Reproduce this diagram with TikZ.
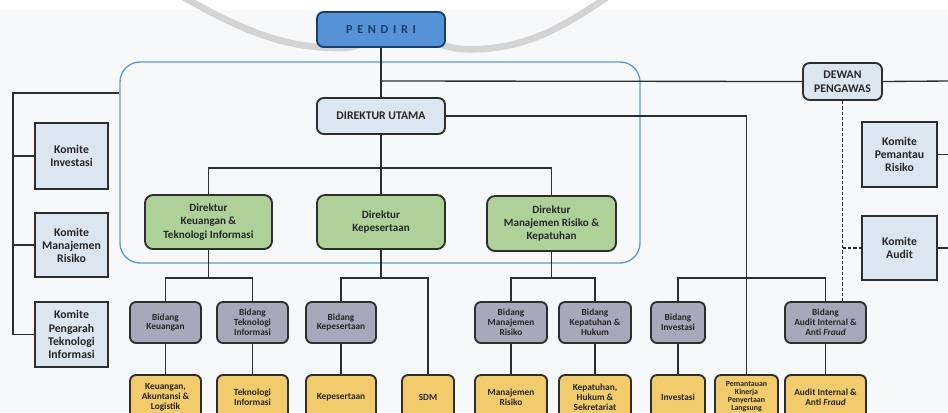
\documentclass[tikz,border=0pt]{standalone}
\usepackage{fontspec}
\setmainfont{Carlito}
\definecolor{lc}{HTML}{2E2E2E}
\definecolor{tc}{HTML}{262626}
\definecolor{lb}{HTML}{DCE6F1}
\definecolor{gr}{HTML}{AED19A}
\definecolor{bd}{HTML}{A9A8BA}
\definecolor{yl}{HTML}{F2CB6C}
\definecolor{pf}{HTML}{5593D6}
\definecolor{pb}{HTML}{1F3D6B}
\definecolor{cb}{HTML}{5B9BD5}
\definecolor{bg}{HTML}{F7F8FA}
\tikzset{
  sz/.style 2 args={minimum width=#1*0.75pt, minimum height=#2*0.75pt},
  base/.style={draw=lc, line width=1.4pt, align=center, inner sep=0pt, text=tc},
  mainbox/.style={base, rounded corners=5pt, fill=lb, font=\bfseries\fontsize{8.8}{10.5}\selectfont},
  komite/.style={base, fill=lb, font=\bfseries\fontsize{8.8}{9.8}\selectfont},
  dirbox/.style={base, rounded corners=6pt, fill=gr, font=\bfseries\fontsize{8.3}{9.8}\selectfont},
  bidang/.style={base, rounded corners=4.5pt, fill=bd, font=\bfseries\fontsize{7}{7.4}\selectfont},
  unitbox/.style={base, rounded corners=4.5pt, fill=yl, font=\bfseries\fontsize{7}{7.5}\selectfont},
  conn/.style={draw=lc, line width=1pt},
  dashconn/.style={draw=lc, line width=1pt, dash pattern=on 2.5pt off 1.5pt},
}
\begin{document}
\begin{tikzpicture}[x=0.75pt,y=-0.75pt]
\useasboundingbox (0,0) rectangle (948,412);
\clip (0,0) rectangle (948,412);
\fill[white] (0,0) rectangle (948,412);
\fill[bg] (0,10) rectangle (948,412);
% watermark swoosh
\draw[black!17, line width=5pt, line cap=round]
  (185,-2) .. controls (250,35) and (290,48) .. (340,48)
  .. controls (368,48) and (380,30) .. (395,29)
  .. controls (415,29) and (430,46) .. (462,49)
  .. controls (525,52) and (565,25) .. (606,-2);
% container
\node[draw=cb, line width=1pt, rounded corners=15pt, sz={520}{201}] (cont) at (380,162.5) {};
% top
\node[base, rounded corners=5pt, fill=pf, draw=pb, sz={128}{35}, text=pb,
  font=\bfseries\fontsize{9.2}{10}\selectfont\addfontfeature{LetterSpace=38}] (pendiri) at (381,29.5) {PENDIRI};
\node[mainbox, sz={128}{36}] (dirut) at (381,116) {DIREKTUR UTAMA};
\node[mainbox, sz={79}{37}] (dewan) at (842.5,81.5) {DEWAN\\PENGAWAS};
% komite left
\node[komite, sz={73}{66}] (kinv) at (71.5,156) {Komite\\Investasi};
\node[komite, sz={73}{64}] (kmr) at (71.5,245) {Komite\\Manajemen\\Risiko};
\node[komite, sz={73}{65}] (kpti) at (71.5,334.5) {Komite\\Pengarah\\Teknologi\\Informasi};
% komite right
\node[komite, sz={75}{65}] (kpr) at (899.5,154.5) {Komite\\Pemantau\\Risiko};
\node[komite, sz={75}{64}] (kaudit) at (899.5,248) {Komite\\Audit};
% direktur
\node[dirbox, sz={127}{54}] (dk) at (208.5,222) {Direktur\\Keuangan \&\\Teknologi Informasi};
\node[dirbox, sz={128}{54}] (dkp) at (381,222) {Direktur\\Kepesertaan};
\node[dirbox, sz={129}{55}] (dmr) at (551.5,223.5) {Direktur\\Manajemen Risiko \&\\Kepatuhan};
% bidang
\node[bidang, sz={71}{41}] (bk) at (165.5,322.5) {Bidang\\Keuangan};
\node[bidang, sz={71}{41}] (bti) at (252.5,322.5) {Bidang\\Teknologi\\Informasi};
\node[bidang, sz={70}{41}] (bkp) at (341,322.5) {Bidang\\Kepesertaan};
\node[bidang, sz={72}{41}] (bmr) at (511,322.5) {Bidang\\Manajemen\\Risiko};
\node[bidang, sz={72}{41}] (bkh) at (595,322.5) {Bidang\\Kepatuhan \&\\Hukum};
\node[bidang, sz={54}{41}] (binv) at (678,322.5) {Bidang\\Investasi};
\node[bidang, sz={81}{41}] (bai) at (825.5,322.5) {Bidang\\Audit Internal \&\\Anti \textit{Fraud}};
% units
\node[unitbox, sz={71}{44}] (yk) at (165.5,397) {Keuangan,\\Akuntansi \&\\Logistik};
\node[unitbox, sz={71}{44}] (yti) at (252.5,397) {Teknologi\\Informasi};
\node[unitbox, sz={70}{44}] (ykp) at (341,397) {Kepesertaan};
\node[unitbox, sz={52}{44}] (ysdm) at (428,397) {SDM};
\node[unitbox, sz={72}{44}] (ymr) at (511,397) {Manajemen\\Risiko};
\node[unitbox, sz={72}{44}] (ykh) at (595,397) {Kepatuhan,\\Hukum \&\\Sekretariat};
\node[unitbox, sz={54}{44}] (yinv) at (678,397) {Investasi};
\node[unitbox, sz={63}{44}, font=\bfseries\fontsize{5.9}{6}\selectfont] (ypk) at (746.5,397) {Pemantauan\\Kinerja\\Penyertaan\\Langsung};
\node[unitbox, sz={81}{44}] (yai) at (825.5,397) {Audit Internal \&\\Anti \textit{Fraud}};
% coordinates
\coordinate (L0) at (13,93);
\coordinate (T1) at (381,81);
\coordinate (RE1) at (948,81);
\coordinate (RE2) at (948,154.5);
\coordinate (RE3) at (948,248);
\coordinate (D1) at (381,168);
\coordinate (B1) at (208.5,278);
\coordinate (B2) at (381,278);
\coordinate (B3) at (551.5,278);
\coordinate (B4) at (746.5,278);
% connectors
\draw[conn] (pendiri.south) -- (dirut.north);
\draw[conn] (T1) -- (dewan.west);
\draw[conn] (dewan.east) -- (RE1);
\draw[conn] (cont.west |- L0) -- (L0) -- (L0 |- kpti.west) -- (kpti.west);
\draw[conn] (L0 |- kinv.west) -- (kinv.west);
\draw[conn] (L0 |- kmr.west) -- (kmr.west);
\draw[conn] (kpr.east) -- (RE2);
\draw[conn] (kaudit.east) -- (RE3);
\draw[conn] (dirut.east) -- (ypk.north |- dirut.east) -- (ypk.north);
\draw[dashconn] (dewan.south) -- (dewan.south |- bai.north);
\draw[dashconn] (dewan.south |- kaudit.west) -- (kaudit.west);
\draw[conn] (dirut.south) -- (D1);
\draw[conn] (dk.north) |- (D1) -| (dmr.north);
\draw[conn] (D1) -- (dkp.north);
% under directors
\draw[conn] (dk.south) -- (B1);
\draw[conn] (bk.north) |- (B1) -| (bti.north);
\draw[conn] (dkp.south) -- (B2);
\draw[conn] (bkp.north) |- (B2) -| (ysdm.north);
\draw[conn] (dmr.south) -- (B3);
\draw[conn] (bmr.north) |- (B3) -| (bkh.north);
\draw[conn] (binv.north) |- (B4) -| (bai.north);
% bidang to units
\draw[conn] (bk.south) -- (yk.north);
\draw[conn] (bti.south) -- (yti.north);
\draw[conn] (bkp.south) -- (ykp.north);
\draw[conn] (bmr.south) -- (ymr.north);
\draw[conn] (bkh.south) -- (ykh.north);
\draw[conn] (binv.south) -- (yinv.north);
\draw[conn] (bai.south) -- (yai.north);
\end{tikzpicture}
\end{document}
